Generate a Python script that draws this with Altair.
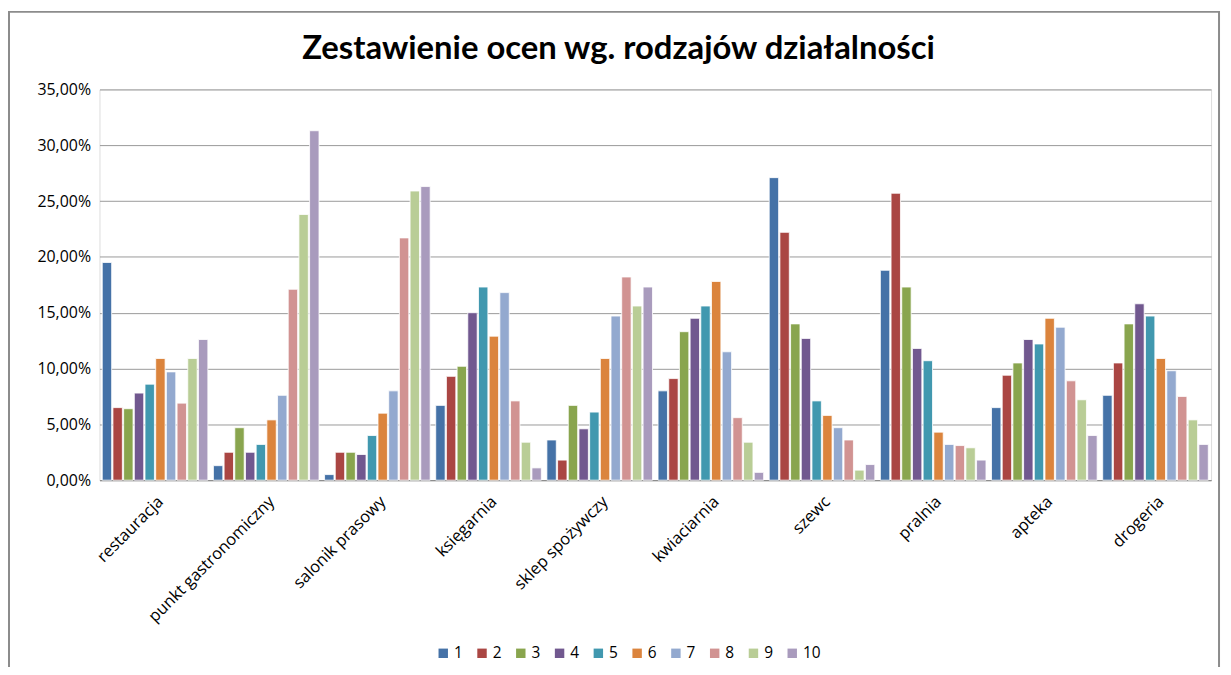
import altair as alt
import pandas as pd

title_text = "Zestawienie ocen wg. rodzajów działalności"

categories = ["restauracja", "punkt gastronomiczny", "salonik prasowy", "księgarnia",
              "sklep spożywczy", "kwiaciarnia", "szewc", "pralnia", "apteka", "drogeria"]
series = ["1", "2", "3", "4", "5", "6", "7", "8", "9", "10"]

# values per category, ratings 1..10 (fractions)
restauracja = [0.195, 0.065, 0.064, 0.078, 0.086, 0.109, 0.097, 0.069, 0.109, 0.126]
punkt_gastronomiczny = [0.013, 0.025, 0.047, 0.025, 0.032, 0.054, 0.076, 0.171, 0.238, 0.313]
salonik_prasowy = [0.005, 0.025, 0.025, 0.023, 0.040, 0.060, 0.080, 0.217, 0.259, 0.263]
ksiegarnia = [0.067, 0.093, 0.102, 0.150, 0.173, 0.129, 0.168, 0.071, 0.034, 0.011]
sklep_spozywczy = [0.036, 0.018, 0.067, 0.046, 0.061, 0.109, 0.147, 0.182, 0.156, 0.173]
kwiaciarnia = [0.080, 0.091, 0.133, 0.145, 0.156, 0.178, 0.115, 0.056, 0.034, 0.007]
szewc = [0.271, 0.222, 0.140, 0.127, 0.071, 0.058, 0.047, 0.036, 0.009, 0.014]
pralnia = [0.188, 0.257, 0.173, 0.118, 0.107, 0.043, 0.032, 0.031, 0.029, 0.018]
apteka = [0.065, 0.094, 0.105, 0.126, 0.122, 0.145, 0.137, 0.089, 0.072, 0.040]
drogeria = [0.076, 0.105, 0.140, 0.158, 0.147, 0.109, 0.098, 0.075, 0.054, 0.032]

values = [restauracja, punkt_gastronomiczny, salonik_prasowy, ksiegarnia, sklep_spozywczy,
          kwiaciarnia, szewc, pralnia, apteka, drogeria]

colors = ["#4572A7", "#AA4643", "#89A54E", "#71588F", "#4198AF",
          "#DB843D", "#93A9CF", "#D19392", "#B9CD96", "#A99BBD"]

y_ticks = [0, 0.05, 0.10, 0.15, 0.20, 0.25, 0.30, 0.35]

rows = []
for c, vals in zip(categories, values):
    for s, v in zip(series, vals):
        rows.append({"kategoria": c, "ocena": s, "udzial": v})
df = pd.DataFrame(rows)

font = "Open Sans"

bars = alt.Chart(df).mark_bar(stroke="white", strokeWidth=0.8).encode(
    x=alt.X("kategoria:N", sort=categories, title=None,
            scale=alt.Scale(paddingInner=0.05, paddingOuter=0.025),
            axis=alt.Axis(labelAngle=-45, labelFontSize=16.5, labelFont=font,
                          labelColor="#000000", domainColor="#888888", ticks=False,
                          labelPadding=13, labelLimit=300)),
    xOffset=alt.XOffset("ocena:N", sort=series, scale=alt.Scale(paddingInner=0.12)),
    y=alt.Y("udzial:Q", title=None,
            scale=alt.Scale(domain=[0, 0.35], nice=False),
            axis=alt.Axis(values=y_ticks, labelExpr="replace(format(datum.value, '.2%'), '.', ',')",
                          labelFontSize=16, labelFont=font, labelColor="#000000",
                          gridColor="#999999", gridWidth=1, domain=False, ticks=False,
                          labelPadding=9)),
    color=alt.Color("ocena:N", sort=series, title=None,
                    scale=alt.Scale(domain=series, range=colors),
                    legend=alt.Legend(orient="none", direction="horizontal", columns=10,
                                      legendX=338, legendY=559, symbolType="square",
                                      symbolSize=90, symbolStrokeWidth=0,
                                      labelFontSize=15.5, labelFont=font, labelColor="#000000",
                                      columnPadding=11, labelOffset=3)),
)

frame = alt.Chart(pd.DataFrame({"k": [0]})).mark_rect(
    fill=None, stroke="#8c8c8c", strokeWidth=2).encode(
    x=alt.value(-91), x2=alt.value(1126), y=alt.value(-78), y2=alt.value(640))

title = alt.Chart(pd.DataFrame({"t": [title_text]})).mark_text(
    font="Lato", fontSize=33, fontWeight="bold", color="#000000",
    align="center", baseline="alphabetic").encode(
    text="t:N", x=alt.value(522), y=alt.value(-31))

chart = alt.layer(frame, title, bars).properties(
    width=1118, height=393,
    autosize=alt.AutoSizeParams(type="none"),
    padding={"left": 92, "top": 80, "right": 12, "bottom": 186},
).configure_view(stroke=None).configure(background="white")

chart.save("out.html", embed_options={"renderer": "svg", "actions": False})
